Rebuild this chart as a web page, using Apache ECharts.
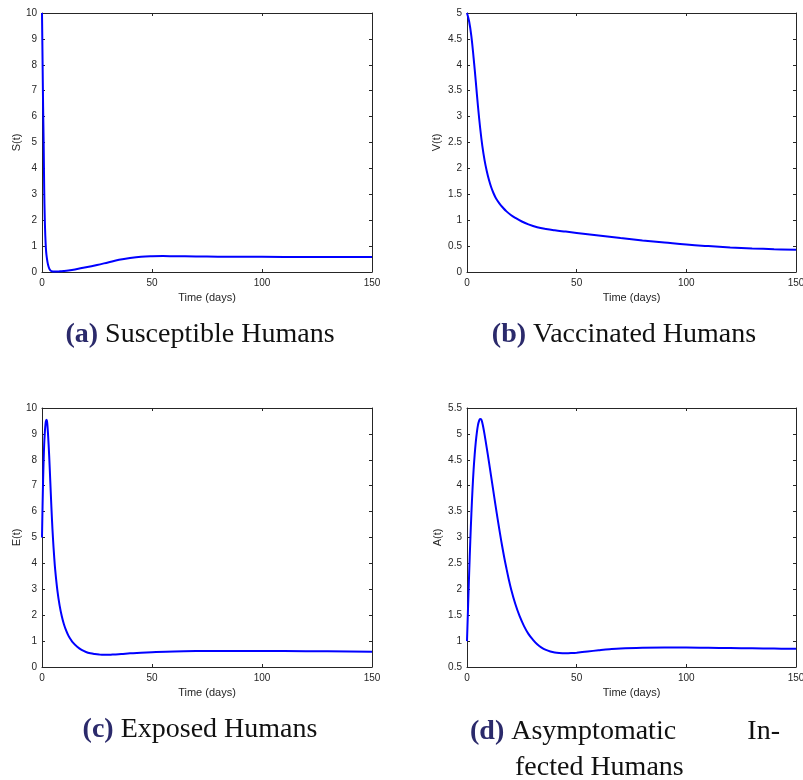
<!DOCTYPE html>
<html>
<head>
<meta charset="utf-8">
<title>Human compartments over time</title>
<script src="https://cdn.jsdelivr.net/npm/echarts@6/dist/echarts.min.js"></script>
<style>
  html, body { margin: 0; padding: 0; background: #ffffff; }
  #chart { width: 803px; height: 780px; }
</style>
</head>
<body>
<div id="chart"></div>
<script>
// Time axis ticks (days)
const timeTicks = [0, 50, 100, 150];

// S(t): susceptible humans
const sTime = [0, 0.25, 0.5, 0.75, 1, 1.25, 1.5, 1.75, 2, 2.5, 3, 3.5, 4, 4.5, 5, 6, 8, 10, 12, 15, 20, 25, 30, 35, 40, 45, 50, 55, 60, 70, 80, 100, 120, 150];
const sValues = [10, 8.2, 6.4, 5, 3.2, 2.1, 1.4, 0.95, 0.68, 0.38, 0.2, 0.1, 0.05, 0.03, 0.02, 0.018, 0.025, 0.04, 0.06, 0.1, 0.18, 0.27, 0.37, 0.47, 0.54, 0.59, 0.61, 0.615, 0.61, 0.6, 0.59, 0.585, 0.58, 0.58];

// V(t): vaccinated humans
const vTime = [0, 1, 2, 3, 4, 5, 6, 7, 8, 9, 10, 11, 12, 13, 14, 15, 16, 18, 20, 22, 25, 28, 32, 36, 40, 45, 50, 60, 70, 80, 90, 100, 110, 120, 130, 140, 150];
const vValues = [5, 4.83, 4.55, 4.14, 3.68, 3.2, 2.78, 2.43, 2.16, 1.95, 1.78, 1.64, 1.53, 1.44, 1.37, 1.31, 1.26, 1.17, 1.1, 1.045, 0.975, 0.92, 0.865, 0.83, 0.805, 0.78, 0.755, 0.705, 0.655, 0.61, 0.57, 0.53, 0.5, 0.475, 0.455, 0.44, 0.43];

// E(t): exposed humans
const eTime = [0, 0.25, 0.5, 0.75, 1, 1.25, 1.5, 1.75, 2, 2.25, 2.5, 3, 3.5, 4, 4.5, 5, 5.5, 6, 7, 8, 9, 10, 11, 12, 13, 14, 16, 18, 20, 22, 24, 26, 28, 30, 32, 36, 40, 45, 50, 60, 70, 80, 90, 100, 120, 150];
const eValues = [5, 6.2, 7.2, 8.0, 8.6, 9.0, 9.3, 9.48, 9.55, 9.5, 9.3, 8.6, 7.7, 6.7, 5.75, 4.95, 4.3, 3.75, 2.95, 2.38, 1.96, 1.64, 1.4, 1.21, 1.07, 0.95, 0.78, 0.66, 0.58, 0.53, 0.5, 0.48, 0.47, 0.47, 0.48, 0.5, 0.53, 0.55, 0.57, 0.6, 0.615, 0.62, 0.62, 0.62, 0.61, 0.59];

// A(t): asymptomatic infected humans
const aTime = [0, 0.5, 1, 1.5, 2, 2.5, 3, 3.5, 4, 4.5, 5, 5.5, 6, 6.5, 7, 7.5, 8, 9, 10, 11, 12, 13, 14, 15, 16, 17, 18, 19, 20, 22, 24, 26, 28, 30, 32, 34, 36, 38, 40, 42, 45, 48, 50, 55, 60, 65, 70, 80, 90, 100, 110, 120, 130, 140, 150];
const aValues = [1, 1.68, 2.33, 2.93, 3.46, 3.92, 4.3, 4.6, 4.84, 5.03, 5.17, 5.25, 5.29, 5.28, 5.21, 5.11, 4.99, 4.73, 4.46, 4.18, 3.9, 3.62, 3.35, 3.09, 2.84, 2.61, 2.4, 2.2, 2.02, 1.72, 1.48, 1.29, 1.14, 1.03, 0.94, 0.875, 0.83, 0.8, 0.78, 0.77, 0.765, 0.77, 0.777, 0.8, 0.822, 0.842, 0.857, 0.87, 0.875, 0.875, 0.87, 0.865, 0.86, 0.855, 0.85];

// Panel captions
const captions = [
  { tag: '(a)', text: 'Susceptible Humans' },
  { tag: '(b)', text: 'Vaccinated Humans' },
  { tag: '(c)', text: 'Exposed Humans' },
  { tag: '(d)', text: 'Asymptomatic', tail: 'In-', second: 'fected Humans' }
];

const axisColor = '#262626';
const sansFont = '"Liberation Sans", Arial, Helvetica, sans-serif';
const serifFont = '"Liberation Serif", "Times New Roman", serif';

function pairs(ts, vs) {
  return ts.map((t, i) => [t, vs[i]]);
}

const panels = [
  { grid: { left: 42, top: 13, width: 330, height: 259 }, name: 'S(t)', min: 0, max: 10, interval: 1, gap: 20, data: pairs(sTime, sValues) },
  { grid: { left: 467, top: 13, width: 329, height: 259 }, name: 'V(t)', min: 0, max: 5, interval: 0.5, gap: 25, data: pairs(vTime, vValues) },
  { grid: { left: 42, top: 408, width: 330, height: 259 }, name: 'E(t)', min: 0, max: 10, interval: 1, gap: 20, data: pairs(eTime, eValues) },
  { grid: { left: 467, top: 408, width: 329, height: 259 }, name: 'A(t)', min: 0.5, max: 5.5, interval: 0.5, gap: 24, data: pairs(aTime, aValues) }
];

const grids = [], xAxes = [], yAxes = [], series = [];

panels.forEach((p, i) => {
  grids.push(Object.assign({ containLabel: false, outerBoundsMode: 'none' }, p.grid));
  const baseX = {
    type: 'value', gridIndex: i, min: timeTicks[0], max: timeTicks[timeTicks.length - 1],
    interval: timeTicks[1] - timeTicks[0],
    axisLine: { show: true, onZero: false, lineStyle: { color: axisColor, width: 1 } },
    axisTick: { show: true, inside: true, length: 3, lineStyle: { color: axisColor } },
    splitLine: { show: false }
  };
  xAxes.push(Object.assign({}, baseX, {
    position: 'bottom',
    name: 'Time (days)', nameLocation: 'middle', nameGap: 20,
    nameTextStyle: { fontFamily: sansFont, fontSize: 11, color: axisColor },
    axisLabel: { show: true, margin: 6, fontFamily: sansFont, fontSize: 10, color: axisColor, hideOverlap: false }
  }));
  xAxes.push(Object.assign({}, baseX, { position: 'top', axisLabel: { show: false } }));

  const baseY = {
    type: 'value', gridIndex: i, min: p.min, max: p.max, interval: p.interval,
    axisLine: { show: true, onZero: false, lineStyle: { color: axisColor, width: 1 } },
    axisTick: { show: true, inside: true, length: 3, lineStyle: { color: axisColor } },
    splitLine: { show: false }
  };
  yAxes.push(Object.assign({}, baseY, {
    position: 'left',
    name: p.name, nameLocation: 'middle', nameGap: p.gap,
    nameTextStyle: { fontFamily: sansFont, fontSize: 11, color: axisColor },
    axisLabel: { show: true, margin: 5, fontFamily: sansFont, fontSize: 10, color: axisColor }
  }));
  yAxes.push(Object.assign({}, baseY, { position: 'right', axisLabel: { show: false } }));

  series.push({
    type: 'line', xAxisIndex: i * 2, yAxisIndex: i * 2,
    data: p.data, smooth: 0.4, showSymbol: false, symbol: 'none',
    lineStyle: { color: '#0000ff', width: 2 }, clip: true, animation: false
  });
});

const rich = {
  tag: { fontFamily: serifFont, fontSize: 28, fontWeight: 'bold', fill: '#2b2a6b' },
  txt: { fontFamily: serifFont, fontSize: 28, fill: '#111111' }
};

function caption(c, x, y, align) {
  return {
    type: 'text', x: x, y: y, silent: true,
    style: { text: '{tag|' + c.tag + '}{txt| ' + c.text + '}', rich: rich, align: align, verticalAlign: 'middle' }
  };
}

const graphics = [
  caption(captions[0], 200, 335, 'center'),
  caption(captions[1], 624, 335, 'center'),
  caption(captions[2], 200, 730, 'center'),
  caption(captions[3], 470, 732, 'left'),
  { type: 'text', x: 780, y: 732, silent: true,
    style: { text: captions[3].tail, font: '28px ' + serifFont, fill: '#111111', align: 'right', verticalAlign: 'middle' } },
  { type: 'text', x: 515, y: 768, silent: true,
    style: { text: captions[3].second, font: '28px ' + serifFont, fill: '#111111', align: 'left', verticalAlign: 'middle' } }
];

const chart = echarts.init(document.getElementById('chart'), null, { renderer: 'canvas' });
chart.setOption({
  backgroundColor: '#ffffff',
  animation: false,
  grid: grids,
  xAxis: xAxes,
  yAxis: yAxes,
  series: series,
  graphic: graphics
});
</script>
</body>
</html>
